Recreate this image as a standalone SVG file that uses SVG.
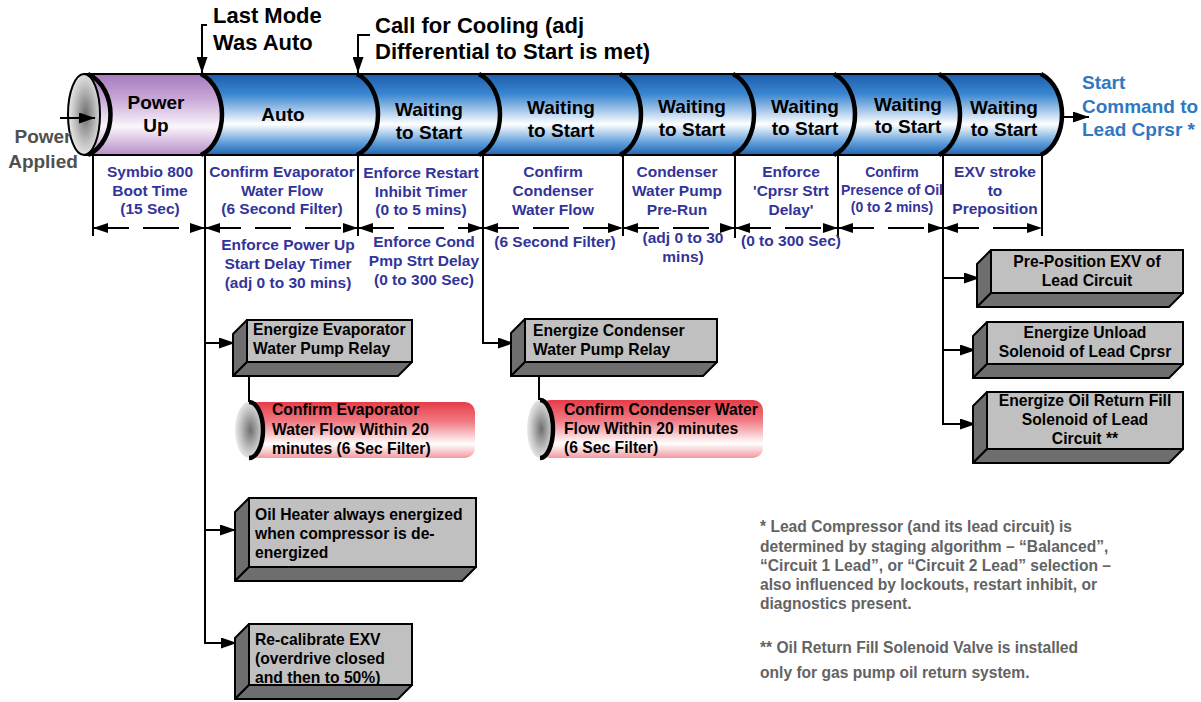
<svg xmlns="http://www.w3.org/2000/svg" width="1201" height="702" viewBox="0 0 1201 702">
<defs>
<linearGradient id="blue" x1="0" y1="0" x2="0" y2="1">
<stop offset="0" stop-color="#1d5dab"/>
<stop offset="0.25" stop-color="#3b86d1"/>
<stop offset="0.62" stop-color="#ffffff"/>
<stop offset="0.85" stop-color="#5e9dda"/>
<stop offset="1" stop-color="#2164b1"/>
</linearGradient>
<linearGradient id="purple" x1="0" y1="0" x2="0" y2="1">
<stop offset="0" stop-color="#a67bbd"/>
<stop offset="0.3" stop-color="#c7a6d6"/>
<stop offset="0.65" stop-color="#fbf6fc"/>
<stop offset="1" stop-color="#b68dc8"/>
</linearGradient>
<linearGradient id="red" x1="0" y1="0" x2="0" y2="1">
<stop offset="0" stop-color="#e63c48"/>
<stop offset="0.35" stop-color="#f07a83"/>
<stop offset="0.75" stop-color="#ffffff"/>
<stop offset="1" stop-color="#f29aa0"/>
</linearGradient>
<radialGradient id="capg" cx="0.55" cy="0.5" r="0.6">
<stop offset="0" stop-color="#6e6e6e"/>
<stop offset="0.6" stop-color="#c4c4c4"/>
<stop offset="1" stop-color="#f5f5f5"/>
</radialGradient>
<marker id="da" viewBox="0 0 15 10" refX="15" refY="5" markerWidth="15" markerHeight="10" markerUnits="userSpaceOnUse" orient="auto-start-reverse"><path d="M0,0 L15,5 L0,10 Z" fill="#000"/></marker>
<marker id="arr" viewBox="0 0 16 11" refX="16" refY="5.5" markerWidth="16" markerHeight="11" markerUnits="userSpaceOnUse" orient="auto"><path d="M0,0 L16,5.5 L0,11 Z" fill="#000"/></marker>
</defs>
<style>
.hd{font-family:"Liberation Sans",Arial,sans-serif;font-weight:bold;font-size:19px;fill:#000;text-anchor:middle}
.big{font-family:"Liberation Sans",Arial,sans-serif;font-weight:bold;font-size:22px;fill:#000}
.tl{font-family:"Liberation Sans",Arial,sans-serif;font-weight:bold;font-size:15.5px;fill:#32349a;text-anchor:middle}
.tls{font-family:"Liberation Sans",Arial,sans-serif;font-weight:bold;font-size:14px;fill:#32349a;text-anchor:middle}
.bx{font-family:"Liberation Sans",Arial,sans-serif;font-weight:bold;font-size:15.7px;fill:#000}
.bxc{font-family:"Liberation Sans",Arial,sans-serif;font-weight:bold;font-size:15.7px;fill:#000;text-anchor:middle}
.note{font-family:"Liberation Sans",Arial,sans-serif;font-weight:bold;font-size:15.6px;fill:#636363}
.front{fill:#c0c0c0;stroke:#000;stroke-width:2}
.side{fill:#6e6e6e;stroke:#000;stroke-width:2;stroke-linejoin:round}
.rim{fill:none;stroke:#000;stroke-width:4.5}
.ln{fill:none;stroke:#000;stroke-width:2}
.dash{fill:none;stroke:#000;stroke-width:2;stroke-dasharray:36 14}
</style>

<g id="main-cylinder">
<path d="M939,74 L1041,74 C1069,88 1069,141 1041,155 L939,155 Z" fill="url(#blue)"/>
<path d="M834,74 L939,74 C967,88 967,141 939,155 L834,155 Z" fill="url(#blue)"/>
<path d="M733,74 L834,74 C862,88 862,141 834,155 L733,155 Z" fill="url(#blue)"/>
<path d="M620,74 L733,74 C761,88 761,141 733,155 L620,155 Z" fill="url(#blue)"/>
<path d="M479,74 L620,74 C648,88 648,141 620,155 L479,155 Z" fill="url(#blue)"/>
<path d="M357,74 L479,74 C507,88 507,141 479,155 L357,155 Z" fill="url(#blue)"/>
<path d="M201,74 L357,74 C385,88 385,141 357,155 L201,155 Z" fill="url(#blue)"/>
<path d="M88,74 L201,74 C229,88 229,141 201,155 L88,155 Z" fill="url(#purple)"/>
<line x1="84" y1="74" x2="1041" y2="74" class="ln"/>
<line x1="84" y1="155" x2="1041" y2="155" class="ln"/>
<ellipse cx="84" cy="114.5" rx="16" ry="40.5" fill="url(#capg)" stroke="#000" stroke-width="2"/>
<path d="M88,74 C118,88 118,141 88,155" class="rim" stroke-width="6"/>
<path d="M201,74 C229,88 229,141 201,155" class="rim"/>
<path d="M357,74 C385,88 385,141 357,155" class="rim"/>
<path d="M479,74 C507,88 507,141 479,155" class="rim"/>
<path d="M620,74 C648,88 648,141 620,155" class="rim"/>
<path d="M733,74 C761,88 761,141 733,155" class="rim"/>
<path d="M834,74 C862,88 862,141 834,155" class="rim"/>
<path d="M939,74 C967,88 967,141 939,155" class="rim"/>
<path d="M1041,74 C1069,88 1069,141 1041,155" class="rim"/>
</g>

<g id="seg-powerup"><text class="hd" x="156" y="109">Power</text><text class="hd" x="156" y="132">Up</text></g>
<g id="seg-auto"><text class="hd" x="283" y="121">Auto</text></g>
<g id="seg-wait1"><text class="hd" x="429" y="116">Waiting</text><text class="hd" x="429" y="139">to Start</text></g>
<g id="seg-wait2"><text class="hd" x="561" y="114">Waiting</text><text class="hd" x="561" y="137">to Start</text></g>
<g id="seg-wait3"><text class="hd" x="692" y="113">Waiting</text><text class="hd" x="692" y="136">to Start</text></g>
<g id="seg-wait4"><text class="hd" x="805" y="113">Waiting</text><text class="hd" x="805" y="135">to Start</text></g>
<g id="seg-wait5"><text class="hd" x="908" y="111">Waiting</text><text class="hd" x="908" y="133">to Start</text></g>
<g id="seg-wait6"><text class="hd" x="1004" y="114">Waiting</text><text class="hd" x="1004" y="136">to Start</text></g>

<g id="label-lastmode"><text class="big" x="213" y="23">Last Mode</text><text class="big" x="213" y="50">Was Auto</text></g>
<g id="label-call"><text class="big" x="375" y="33">Call for Cooling (adj</text><text class="big" x="375" y="59">Differential to Start is met)</text></g>
<g id="label-power"><text class="hd" x="43" y="143" style="fill:#505050">Power</text><text class="hd" x="43" y="168" style="fill:#505050">Applied</text></g>
<g id="label-start"><text class="hd" x="1082" y="89" style="fill:#2f78c4;text-anchor:start">Start</text><text class="hd" x="1082" y="113" style="fill:#2f78c4;text-anchor:start">Command to</text><text class="hd" x="1082" y="136" style="fill:#2f78c4;text-anchor:start">Lead Cprsr *</text></g>

<g id="timeline">
<line x1="93" y1="155" x2="93" y2="236" class="ln"/>
<line x1="358" y1="155" x2="358" y2="236" class="ln"/>
<line x1="623" y1="155" x2="623" y2="236" class="ln"/>
<line x1="735" y1="155" x2="735" y2="238" class="ln"/>
<line x1="838" y1="155" x2="838" y2="238" class="ln"/>
<line x1="1042" y1="155" x2="1042" y2="236" class="ln"/>
<line x1="93" y1="228" x2="205" y2="228" class="dash" marker-start="url(#da)" marker-end="url(#da)"/>
<line x1="205" y1="228" x2="358" y2="228" class="dash" marker-start="url(#da)" marker-end="url(#da)"/>
<line x1="358" y1="228" x2="483" y2="228" class="dash" marker-start="url(#da)" marker-end="url(#da)"/>
<line x1="483" y1="228" x2="623" y2="228" class="dash" marker-start="url(#da)" marker-end="url(#da)"/>
<line x1="623" y1="228" x2="735" y2="228" class="dash" marker-start="url(#da)" marker-end="url(#da)"/>
<line x1="735" y1="228" x2="838" y2="228" class="dash" marker-start="url(#da)" marker-end="url(#da)"/>
<line x1="838" y1="228" x2="943" y2="228" class="dash" marker-start="url(#da)" marker-end="url(#da)"/>
<line x1="943" y1="228" x2="1042" y2="228" class="dash" marker-start="url(#da)" marker-end="url(#da)"/>
</g>

<g id="tl-texts">
<text class="tl" x="150" y="177">Symbio 800</text><text class="tl" x="150" y="196">Boot Time</text><text class="tl" x="150" y="214">(15 Sec)</text>
<text class="tl" x="282" y="177">Confirm Evaporator</text><text class="tl" x="282" y="196">Water Flow</text><text class="tl" x="282" y="214">(6 Second Filter)</text>
<text class="tl" x="288" y="250">Enforce Power Up</text><text class="tl" x="288" y="269">Start Delay Timer</text><text class="tl" x="288" y="288">(adj 0 to 30 mins)</text>
<text class="tl" x="421" y="178">Enforce Restart</text><text class="tl" x="421" y="197">Inhibit Timer</text><text class="tl" x="421" y="215">(0 to 5 mins)</text>
<text class="tl" x="424" y="247">Enforce Cond</text><text class="tl" x="424" y="266">Pmp Strt Delay</text><text class="tl" x="424" y="285">(0 to 300 Sec)</text>
<text class="tl" x="553" y="177">Confirm</text><text class="tl" x="553" y="196">Condenser</text><text class="tl" x="553" y="215">Water Flow</text>
<text class="tl" x="555" y="247">(6 Second Filter)</text>
<text class="tl" x="677" y="177">Condenser</text><text class="tl" x="677" y="196">Water Pump</text><text class="tl" x="677" y="215">Pre-Run</text>
<text class="tl" x="683" y="243">(adj 0 to 30</text><text class="tl" x="683" y="262">mins)</text>
<text class="tl" x="791" y="177">Enforce</text><text class="tl" x="791" y="196">'Cprsr Strt</text><text class="tl" x="791" y="215">Delay'</text>
<text class="tl" x="791" y="246">(0 to 300 Sec)</text>
<text class="tls" x="892" y="177">Confirm</text><text class="tls" x="892" y="195">Presence of Oil</text><text class="tls" x="892" y="212">(0 to 2 mins)</text>
<text class="tl" x="995" y="177">EXV stroke</text><text class="tl" x="995" y="196">to</text><text class="tl" x="995" y="214">Preposition</text>
</g>

<g id="connectors">
<polyline points="205,155 205,643" class="ln"/>
<line x1="205" y1="343" x2="235" y2="343" class="ln" marker-end="url(#arr)"/>
<line x1="205" y1="530" x2="236" y2="530" class="ln" marker-end="url(#arr)"/>
<line x1="204" y1="643" x2="237" y2="643" class="ln" marker-end="url(#arr)"/>
<polyline points="483,155 483,343 514,343" class="ln" marker-end="url(#arr)"/>
<polyline points="943,155 943,424 976,424" class="ln" marker-end="url(#arr)"/>
<line x1="943" y1="278" x2="980" y2="278" class="ln" marker-end="url(#arr)"/>
<line x1="943" y1="350" x2="976" y2="350" class="ln" marker-end="url(#arr)"/>
<line x1="249" y1="376" x2="249" y2="402" class="ln"/>
<line x1="539" y1="376" x2="539" y2="400" class="ln"/>
<polyline points="207,25 202,25 202,73" class="ln" marker-end="url(#arr)"/>
<polyline points="370,35 358,35 358,73" class="ln" marker-end="url(#arr)"/>
<line x1="60" y1="118" x2="95" y2="118" class="ln" marker-end="url(#arr)"/>
<line x1="1060" y1="117" x2="1089" y2="117" class="ln" marker-end="url(#arr)"/>
</g>

<g id="box-evap-relay">
<polygon class="side" points="247,320 233,334 233,376 247,362"/>
<polygon class="side" points="247,362 233,376 398,376 412,362"/>
<rect class="front" x="247" y="320" width="165" height="42"/>
<text class="bx" x="253" y="335">Energize Evaporator</text><text class="bx" x="253" y="354">Water Pump Relay</text>
</g>
<g id="box-cond-relay">
<polygon class="side" points="525,319 511,333 511,376 525,362"/>
<polygon class="side" points="525,362 511,376 703,376 717,362"/>
<rect class="front" x="525" y="319" width="192" height="43"/>
<text class="bx" x="533" y="336">Energize Condenser</text><text class="bx" x="533" y="355">Water Pump Relay</text>
</g>
<g id="box-oil-heater">
<polygon class="side" points="249,498 235,512 235,581 249,567"/>
<polygon class="side" points="249,567 235,581 462,581 476,567"/>
<rect class="front" x="249" y="498" width="227" height="69"/>
<text class="bx" x="255" y="520">Oil Heater always energized</text><text class="bx" x="255" y="539">when compressor is de-</text><text class="bx" x="255" y="558">energized</text>
</g>
<g id="box-recal">
<polygon class="side" points="249,624 235,638 235,699 249,685"/>
<polygon class="side" points="249,685 235,699 398,699 412,685"/>
<rect class="front" x="249" y="624" width="163" height="61"/>
<text class="bx" x="255" y="645">Re-calibrate EXV</text><text class="bx" x="255" y="664">(overdrive closed</text><text class="bx" x="255" y="683">and then to 50%)</text>
</g>
<g id="box-preposition">
<polygon class="side" points="991,250 977,264 977,307 991,293"/>
<polygon class="side" points="991,293 977,307 1169,307 1183,293"/>
<rect class="front" x="991" y="250" width="192" height="43"/>
<text class="bxc" x="1087" y="267">Pre-Position EXV of</text><text class="bxc" x="1087" y="286">Lead Circuit</text>
</g>
<g id="box-unload">
<polygon class="side" points="987,322 973,336 973,378 987,364"/>
<polygon class="side" points="987,364 973,378 1169,378 1183,364"/>
<rect class="front" x="987" y="322" width="196" height="42"/>
<text class="bxc" x="1085" y="338">Energize Unload</text><text class="bxc" x="1085" y="357">Solenoid of Lead Cprsr</text>
</g>
<g id="box-oilreturn">
<polygon class="side" points="987,392 973,406 973,463 987,449"/>
<polygon class="side" points="987,449 973,463 1169,463 1183,449"/>
<rect class="front" x="987" y="392" width="196" height="57"/>
<text class="bxc" x="1085" y="406">Energize Oil Return Fill</text><text class="bxc" x="1085" y="425">Solenoid of Lead</text><text class="bxc" x="1085" y="444">Circuit **</text>
</g>

<g id="cyl-evap">
<rect x="249" y="402" width="226" height="56" rx="10" fill="url(#red)"/>
<ellipse cx="249" cy="430" rx="14" ry="28" fill="url(#capg)"/>
<path d="M249,402 A14,28 0 0 1 249,458" class="rim" stroke-width="3.5"/>
<text class="bx" x="272" y="415">Confirm Evaporator</text><text class="bx" x="272" y="435">Water Flow  Within 20</text><text class="bx" x="272" y="454">minutes (6 Sec Filter)</text>
</g>
<g id="cyl-cond">
<rect x="540" y="400" width="223" height="58" rx="10" fill="url(#red)"/>
<ellipse cx="540" cy="429" rx="13" ry="29" fill="url(#capg)"/>
<path d="M540,400 A13,29 0 0 1 540,458" class="rim" stroke-width="3.5"/>
<text class="bx" x="564" y="415">Confirm Condenser Water</text><text class="bx" x="564" y="434">Flow Within 20 minutes</text><text class="bx" x="564" y="453">(6 Sec Filter)</text>
</g>

<g id="notes">
<text class="note" x="760" y="532">* Lead Compressor (and its lead circuit) is</text>
<text class="note" x="760" y="552">determined by staging algorithm – “Balanced”,</text>
<text class="note" x="760" y="571">“Circuit 1 Lead”, or “Circuit 2 Lead” selection –</text>
<text class="note" x="760" y="590">also influenced by lockouts, restart inhibit, or</text>
<text class="note" x="760" y="609">diagnostics present.</text>
<text class="note" x="760" y="653">** Oil Return Fill Solenoid Valve is installed</text>
<text class="note" x="760" y="678">only for gas pump oil return system.</text>
</g>
</svg>
